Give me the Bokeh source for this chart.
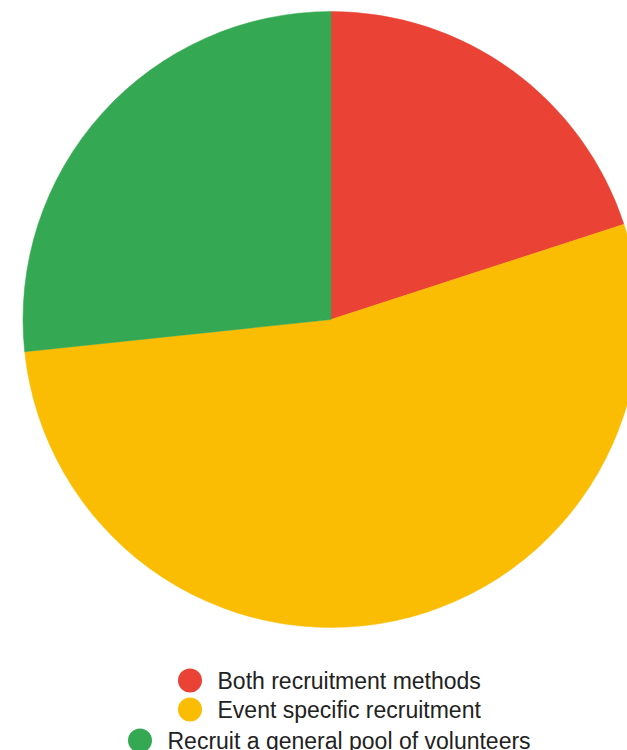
from bokeh.plotting import figure
from bokeh.models import Range1d
from bokeh.core.properties import value
from bokeh.embed import file_html
from bokeh.resources import INLINE
import math

# Data
categories = ["Both recruitment methods", "Event specific recruitment", "Recruit a general pool of volunteers"]
counts = [3, 8, 4]
colors = ["#EA4335", "#FBBC04", "#34A853"]

W, H = 627, 750
p = figure(width=W, height=H, output_backend="svg", toolbar_location=None,
           x_range=Range1d(0, W), y_range=Range1d(0, H), min_border=0)
p.axis.visible = False
p.grid.visible = False
p.outline_line_color = None
p.background_fill_color = "white"
p.border_fill_color = "white"

# pie geometry (pixels; y measured upward from bottom)
cx, cy, r = 330.5, H - 319, 308
total = float(sum(counts))
starts, ends = [], []
acc = 0.0
for c in counts:
    a0 = math.pi / 2 - 2 * math.pi * acc / total
    acc += c
    a1 = math.pi / 2 - 2 * math.pi * acc / total
    starts.append(a0)
    ends.append(a1)

p.wedge(x=[cx] * len(counts), y=[cy] * len(counts), radius=r,
        start_angle=starts, end_angle=ends, direction="clock",
        fill_color=colors, line_color=colors, line_width=0.5)

# legend, each row centered
row_circle_x = [189.5, 189.5, 139.5]
row_y = [H - 680, H - 709, H - 740]
p.scatter(x=row_circle_x, y=row_y, size=24, marker="circle",
          fill_color=colors, line_color=None)
p.text(x=[x + 27.5 for x in row_circle_x], y=row_y, text=categories,
       text_font=value("Liberation Sans"), text_font_size="23px",
       text_color="#222222", text_align="left", text_baseline="middle")

open("out.html", "w").write(file_html(p, INLINE))
